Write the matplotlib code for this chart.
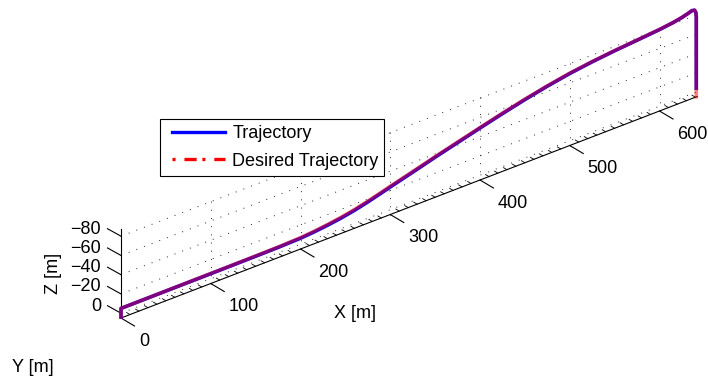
import matplotlib
matplotlib.use('Agg')
import matplotlib.pyplot as plt
from matplotlib.transforms import Affine2D
from matplotlib.lines import Line2D
from matplotlib.legend_handler import HandlerLine2D

plt.rcParams['font.family'] = ['Liberation Sans', 'DejaVu Sans']
plt.rcParams['lines.scale_dashes'] = False

# flown path, x forward / z down (NED), metres
x_traj = [0, 0, 2, 50, 100, 150, 175, 200, 215, 230, 245, 260, 275, 290, 300,
          325, 350, 375, 400, 425, 450, 475, 500, 525, 550, 575, 600, 615,
          625, 632, 636, 639, 640.5, 641, 641]
z_traj = [4, -5, -5, -5.1, -5.2, -5.4, -5.6, -6.2, -7.3, -8.9, -10.9, -13.6,
          -17.0, -20.9, -23.6, -30.0, -36.6, -42.8, -49.0, -55.0, -60.6,
          -65.6, -69.8, -73.0, -75.5, -77.5, -79.6, -81.4, -83.2, -85.0,
          -86.3, -85.8, -83.0, -78.0, -4]

# reference path
x_des = [0, 0, 2, 50, 100, 150, 175, 200, 215, 230, 245, 260, 275, 290, 300,
         325, 350, 375, 400, 425, 450, 475, 500, 525, 550, 575, 600, 615,
         625, 632, 636, 639, 640.5, 641, 641]
z_des = [4, -5, -5, -5.2, -5.4, -5.7, -6.0, -6.8, -8.0, -9.7, -11.8, -14.5,
         -17.9, -21.7, -24.4, -30.7, -37.2, -43.4, -49.5, -55.5, -61.1,
         -66.0, -70.2, -73.3, -75.7, -77.7, -79.8, -81.5, -83.3, -85.0,
         -86.3, -85.8, -83.0, -78.0, 5]

x_ticks = [0, 100, 200, 300, 400, 500, 600]
z_ticks = [0, -20, -40, -60, -80]
x_lim = (0, 642)
z_lim = (5, -88)

fig = plt.figure(figsize=(7.08, 3.81), dpi=100)
ax = fig.add_axes([0, 0, 1, 1])
ax.set_xlim(0, 708)
ax.set_ylim(381, 0)
ax.axis('off')

# oblique view of the x-z wall: x climbs to the right, z points down
view = Affine2D().from_values(0.8975, -0.345, 0, 0.9625, 121, 313.2)
proj = view + ax.transData

grid_kw = dict(color='0.15', lw=0.7, ls=(0, (0.7, 5.2)), transform=proj)
for z in z_ticks:
    ax.plot(x_lim, [z, z], **grid_kw)
for x in x_ticks[1:]:
    ax.plot([x, x], z_lim, **grid_kw)

ax.plot(x_lim, [z_lim[0], z_lim[0]], color='k', lw=0.8, transform=proj)
ax.plot([0, 0], z_lim, color='k', lw=0.8, transform=proj)

# x ticks: major outwards, minor every 10 m pointing in
for x in range(0, 641, 10):
    px, py = view.transform((x, z_lim[0]))
    if x in x_ticks:
        ax.plot([px, px + 13.5], [py, py + 8], color='k', lw=0.8)
        ax.text(px + 18, py + 23, str(x), ha='left', va='center', fontsize=13)
    else:
        ax.plot([px, px - 3.4], [py, py - 2], color='k', lw=0.6)

for z in z_ticks:
    px, py = view.transform((0, z))
    ax.plot([px, px - 13.5], [py, py - 7.5], color='k', lw=0.8)
    ax.text(px - 20, py - 7, str(z).replace('-', '\u2212'), ha='right',
            va='center', fontsize=13)

ax.text(355, 313, 'X [m]', ha='center', va='center', fontsize=13)
ax.text(33, 367, 'Y [m]', ha='center', va='center', fontsize=13)
ax.text(54, 273, 'Z [m]', ha='center', va='center', fontsize=13, rotation=90)

ax.plot(x_traj, z_traj, color='b', lw=2.6, solid_joinstyle='round',
        transform=proj)
ax.plot(x_des, z_des, color='r', lw=2.6, alpha=0.5, solid_joinstyle='round',
        transform=proj)

handles = [Line2D([], [], color='b', lw=2.4),
           Line2D([], [], color='r', lw=2.4, ls=(0, (2.2, 6.4, 8.8, 4.1)))]
leg = ax.legend(handles, ['Trajectory', 'Desired Trajectory'], loc='upper left',
                bbox_to_anchor=(160 / 708, 1 - 119 / 381),
                bbox_transform=fig.transFigure, borderaxespad=0,
                borderpad=0.33, labelspacing=0.59, handlelength=3.28,
                handletextpad=0.39, fontsize=13, fancybox=False,
                edgecolor='k', framealpha=1,
                handler_map={Line2D: HandlerLine2D(xpad=0.33)})
leg.get_frame().set_linewidth(0.8)

fig.savefig('out.png', dpi=100)
